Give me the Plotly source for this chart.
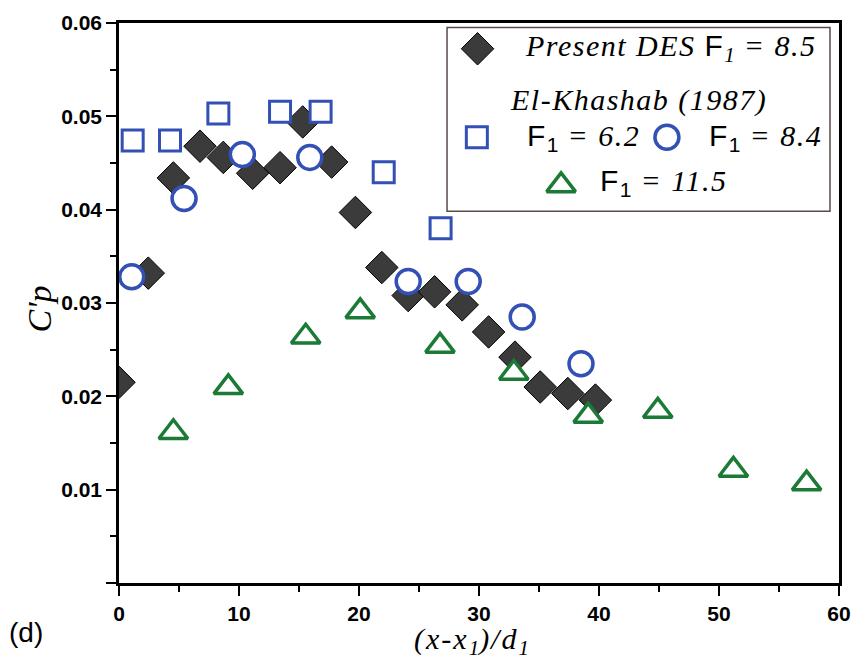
import plotly.graph_objects as go

# ---------------- data ----------------
des_x = [0.0, 2.44, 4.53, 6.75, 8.69, 11.14, 13.42, 15.31, 17.72, 19.7, 21.9, 24.1, 26.3, 28.6, 30.8, 33.0, 35.1, 37.4, 39.7]
des_y = [0.0215, 0.0332, 0.0434, 0.0468, 0.0456, 0.0439, 0.0445, 0.0494, 0.0451, 0.0397, 0.0338, 0.0308, 0.0312, 0.0298, 0.0269, 0.0242, 0.0210, 0.0203, 0.0196]

f62_x = [1.14, 4.25, 8.28, 13.42, 16.8, 22.06, 26.8]
f62_y = [0.0474, 0.0474, 0.0503, 0.0505, 0.0505, 0.0440, 0.0380]

f84_x = [1.06, 5.42, 10.28, 15.9, 24.1, 29.1, 33.6, 38.5]
f84_y = [0.0328, 0.0412, 0.0459, 0.0456, 0.0323, 0.0323, 0.0285, 0.0235]

f115_x = [4.53, 9.11, 15.56, 20.1, 26.75, 32.9, 39.1, 44.9, 51.2, 57.3]
f115_y = [0.01615, 0.02096, 0.02638, 0.0291, 0.0254, 0.0225, 0.0179, 0.01843, 0.01211, 0.01065]

x_tick_vals = [0, 10, 20, 30, 40, 50, 60]
x_tick_text = ["0", "10", "20", "30", "40", "50", "60"]
y_tick_vals = [0.0, 0.01, 0.02, 0.03, 0.04, 0.05, 0.06]
y_tick_text = ["", "0.01", "0.02", "0.03", "0.04", "0.05", "0.06"]

# ---------------- styles ----------------
DARK = "#3b3b3b"
BLUE = "#3350b5"
GREEN = "#1b7a35"
SERIF = "Liberation Serif"
SANS = "Liberation Sans"

fig = go.Figure()

fig.add_trace(go.Scatter(x=des_x, y=des_y, mode="markers", name="Present DES",
                         marker=dict(symbol="diamond", size=25, color=DARK,
                                     line=dict(color="black", width=1))))
fig.add_trace(go.Scatter(x=f62_x, y=f62_y, mode="markers", name="F1 = 6.2",
                         marker=dict(symbol="square", size=21, color="white",
                                     line=dict(color=BLUE, width=3))))
fig.add_trace(go.Scatter(x=f84_x, y=f84_y, mode="markers", name="F1 = 8.4",
                         marker=dict(symbol="circle", size=24, color="white",
                                     line=dict(color=BLUE, width=3.5))))
fig.add_trace(go.Scatter(x=f115_x, y=f115_y, mode="markers", name="F1 = 11.5",
                         marker=dict(symbol="triangle-up", size=25, color="white",
                                     line=dict(color=GREEN, width=3.5))))

# ---------------- legend key glyphs (overlay axes in 0..1 of plot area) ----------------
legend_keys = [
    ("diamond", 0.498, 0.954, 25, DARK, "black", 1),
    ("square", 0.497, 0.796, 21, "white", BLUE, 3),
    ("circle", 0.761, 0.796, 24, "white", BLUE, 3.5),
    ("triangle-up", 0.614, 0.710, 25, "white", GREEN, 3.5),
]
for sym, lx, ly, sz, fc, lc, lw in legend_keys:
    fig.add_trace(go.Scatter(x=[lx], y=[ly], mode="markers", xaxis="x2", yaxis="y2",
                             showlegend=False, hoverinfo="skip",
                             marker=dict(symbol=sym, size=sz, color=fc,
                                         line=dict(color=lc, width=lw))))

LS = "letter-spacing:1.5px"
FSPAN = '<span style="font-family:Liberation Sans;font-style:normal;' + LS + '">F</span>'
SUB1 = '<sub><span style="font-family:Liberation Sans;font-style:normal">1</span></sub>'


def it(s):
    return '<i><span style="' + LS + '">' + s + '</span></i>'


annotations = [
    dict(text=it("Present DES ") + FSPAN + "<sub><i>1</i></sub>" + it(" = 8.5"),
         x=0.561, y=0.955, xanchor="left", yanchor="middle", size=30),
    dict(text=it("El-Khashab (1987)"), x=0.722, y=0.862, xanchor="center", yanchor="middle", size=30),
    dict(text=FSPAN + SUB1 + it(" = 6.2"), x=0.564, y=0.796, xanchor="left", yanchor="middle", size=30),
    dict(text=FSPAN + SUB1 + it(" = 8.4"), x=0.817, y=0.796, xanchor="left", yanchor="middle", size=30),
    dict(text=FSPAN + SUB1 + it(" = 11.5"), x=0.665, y=0.716, xanchor="left", yanchor="middle", size=30),
]
ann = []
for a in annotations:
    sz = a.pop("size")
    a.update(xref="paper", yref="paper", showarrow=False,
             font=dict(family=SERIF, size=sz, color="black"))
    ann.append(a)

# axis titles and panel label
ann.append(dict(text='<i><span style="letter-spacing:2px">(x-x</span><sub>1</sub>'
                     '<span style="letter-spacing:2px">)/d</span><sub>1</sub></i>',
                x=0.49, y=-0.103,
                xref="paper", yref="paper", showarrow=False, xanchor="center", yanchor="middle",
                font=dict(family=SERIF, size=30, color="black")))
ann.append(dict(text="<i>C'p</i>", x=-0.11, y=0.49, textangle=-90,
                xref="paper", yref="paper", showarrow=False, xanchor="center", yanchor="middle",
                font=dict(family=SERIF, size=34, color="black")))
ann.append(dict(text="(d)", x=-0.155, y=-0.088,
                xref="paper", yref="paper", showarrow=False, xanchor="left", yanchor="middle",
                font=dict(family=SANS, size=28, color="black")))

shapes = [
    dict(type="rect", xref="paper", yref="paper", x0=0.4556, x1=0.9875, y0=0.664, y1=0.992,
         line=dict(color="#5a4a48", width=1.5), fillcolor="rgba(0,0,0,0)", layer="below"),
]

TICKFONT = dict(family=SANS, size=21, color="black")
common = dict(tickmode="array", showgrid=False, zeroline=False, showline=True, linecolor="black",
              linewidth=2.5, mirror=True, ticks="outside", ticklen=10, tickwidth=2, tickcolor="black",
              tickfont=TICKFONT, automargin=False)

fig.update_layout(
    width=855, height=661,
    margin=dict(l=119, r=16, t=23, b=78, autoexpand=False),
    paper_bgcolor="white", plot_bgcolor="white",
    showlegend=False,
    font=dict(family=SANS, size=21, color="black"),
    xaxis=dict(range=[0, 60], tickvals=x_tick_vals,
               ticktext=["<b>" + t + "</b>" for t in x_tick_text],
               minor=dict(ticks="outside", ticklen=6, tickwidth=2, tickcolor="black", dtick=5, tick0=0),
               **common),
    yaxis=dict(range=[0, 0.06], tickvals=y_tick_vals,
               ticktext=[("<b>" + t + "</b>") if t else " " for t in y_tick_text],
               minor=dict(ticks="outside", ticklen=6, tickwidth=2, tickcolor="black", dtick=0.005, tick0=0),
               **common),
    xaxis2=dict(range=[0, 1], overlaying="x", visible=False, anchor="y2", automargin=False),
    yaxis2=dict(range=[0, 1], overlaying="y", visible=False, anchor="x2", automargin=False),
    annotations=ann,
    shapes=shapes,
)

fig.write_html("out.html")
